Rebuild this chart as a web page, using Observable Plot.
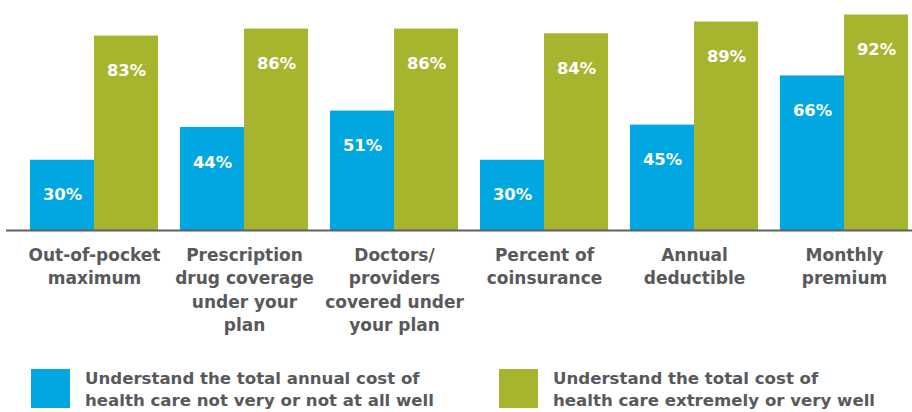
<!DOCTYPE html>
<html>
<head>
<meta charset="utf-8">
<script src="https://cdn.jsdelivr.net/npm/d3@7"></script>
<script src="https://cdn.jsdelivr.net/npm/@observablehq/plot@0.6"></script>
<style>
  html, body { margin: 0; padding: 0; background: #fff; }
  body { position: relative; width: 912px; height: 412px; overflow: hidden; font-family: "DejaVu Sans", sans-serif; }
  #chart svg { display: block; }
  .sw { position: absolute; width: 39px; height: 39px; top: 369px; }
  .lbl { position: absolute; top: 368px; font-size: 16.6px; font-weight: bold; color: #58595b; line-height: 22px; white-space: nowrap; }
</style>
</head>
<body>
<div id="chart"></div>
<div id="legend"></div>
<script>
const categories = [
  "Out-of-pocket\nmaximum",
  "Prescription\ndrug coverage\nunder your\nplan",
  "Doctors/\nproviders\ncovered under\nyour plan",
  "Percent of\ncoinsurance",
  "Annual\ndeductible",
  "Monthly\npremium"
];
const notWell = [30, 44, 51, 30, 45, 66];
const veryWell = [83, 86, 86, 84, 89, 92];
const seriesNames = [
  "Understand the total annual cost of\nhealth care not very or not at all well",
  "Understand the total cost of\nhealth care extremely or very well"
];
const colors = ["#00a7e0", "#a7b52e"];

const blueData = categories.map((c, i) => ({category: c, value: notWell[i]}));
const greenData = categories.map((c, i) => ({category: c, value: veryWell[i]}));

const chart = Plot.plot({
  width: 912,
  height: 350,
  marginLeft: 6,
  marginRight: 0,
  marginTop: 0,
  marginBottom: 120,
  x: {domain: categories, range: [30, 908], paddingInner: 22 / 150, paddingOuter: 0, axis: null},
  y: {domain: [0, 98.2], axis: null},
  marks: [
    Plot.barY(blueData, {x: "category", y: "value", fill: colors[0], insetRight: 64}),
    Plot.barY(greenData, {x: "category", y: "value", fill: colors[1], insetLeft: 64}),
    Plot.ruleY([0], {stroke: "#5f6062", strokeWidth: 2}),
    Plot.text(blueData, {x: "category", y: "value", text: d => d.value + "%", dx: -32, dy: 35, fill: "white", fontSize: 16.4, fontWeight: "bold"}),
    Plot.text(greenData, {x: "category", y: "value", text: d => d.value + "%", dx: 32, dy: 35, fill: "white", fontSize: 16.4, fontWeight: "bold"}),
    Plot.text(categories, {x: d => d, y: () => 0, text: d => d, lineAnchor: "top", dy: 14, fill: "#58595b", fontSize: 17, fontWeight: "bold", lineHeight: 1.37})
  ],
  style: {fontFamily: "'DejaVu Sans', sans-serif", background: "white"}
});
document.getElementById("chart").appendChild(chart);

const legend = document.getElementById("legend");
const swatchLefts = [31, 499];
const textLefts = [85, 553];
seriesNames.forEach((name, i) => {
  const sw = document.createElement("div");
  sw.className = "sw";
  sw.style.left = swatchLefts[i] + "px";
  sw.style.background = colors[i];
  const lbl = document.createElement("div");
  lbl.className = "lbl";
  lbl.style.left = textLefts[i] + "px";
  lbl.innerHTML = name.split("\n").join("<br>");
  legend.appendChild(sw);
  legend.appendChild(lbl);
});
</script>
</body>
</html>
